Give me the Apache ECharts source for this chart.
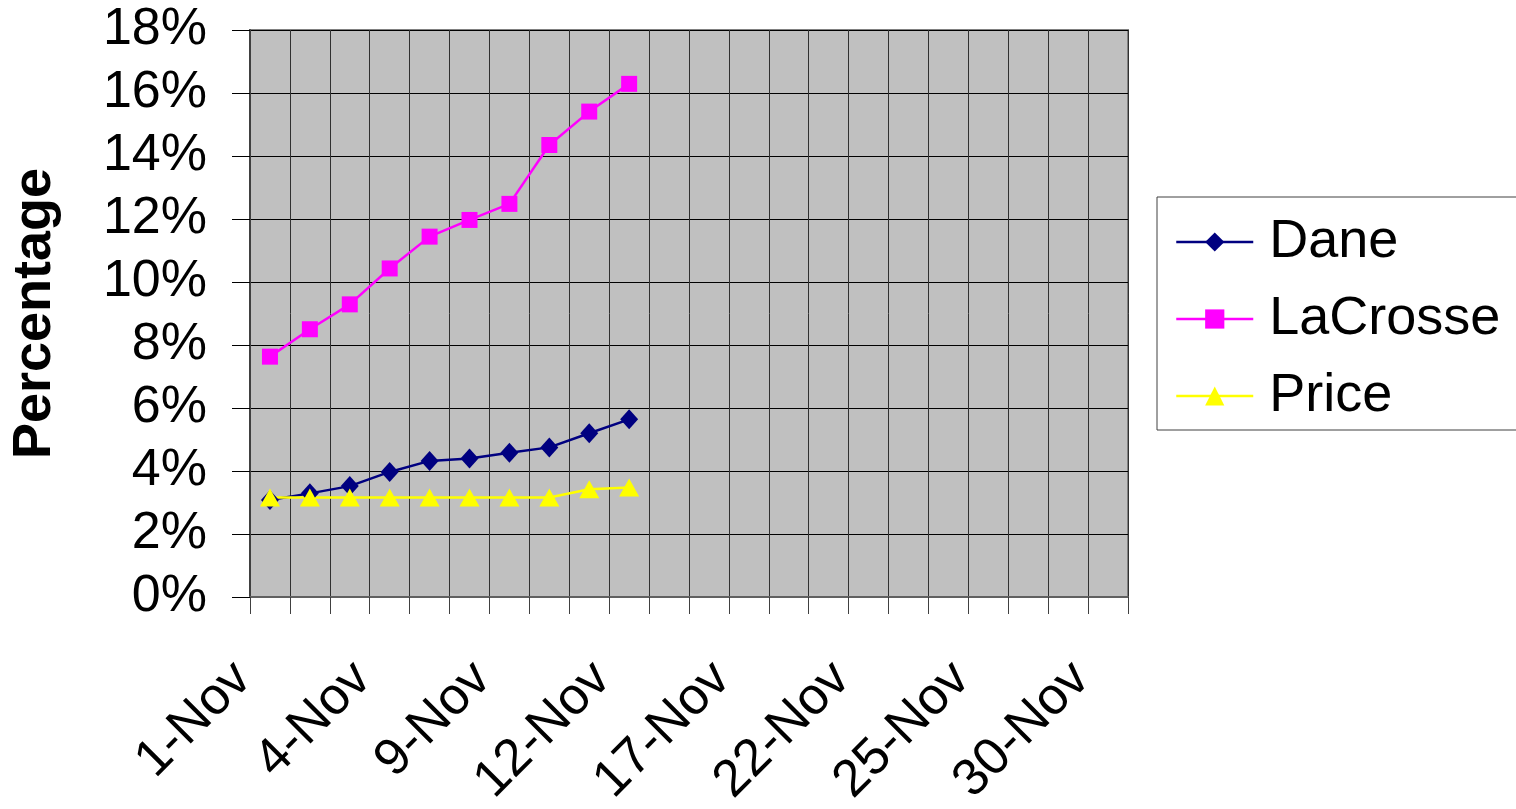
<!DOCTYPE html>
<html>
<head>
<meta charset="utf-8">
<script src="https://cdn.jsdelivr.net/npm/echarts@6/dist/echarts.min.js"></script>
<style>
  html, body { margin: 0; padding: 0; background: #fff; }
  #chart { width: 1516px; height: 809px; }
</style>
</head>
<body>
<div id="chart"></div>
<script>
// Weekdays of November
const dates = ['1-Nov', '2-Nov', '3-Nov', '4-Nov', '5-Nov', '8-Nov', '9-Nov', '10-Nov',
  '11-Nov', '12-Nov', '15-Nov', '16-Nov', '17-Nov', '18-Nov', '19-Nov', '22-Nov',
  '23-Nov', '24-Nov', '25-Nov', '26-Nov', '29-Nov', '30-Nov'];

// Percent values reported so far
const dane = [3.08, 3.29, 3.52, 3.97, 4.32, 4.40, 4.58, 4.75, 5.20, 5.64];
const laCrosse = [7.63, 8.50, 9.29, 10.43, 11.44, 11.97, 12.48, 14.35, 15.41, 16.29];
const price = [3.16, 3.16, 3.16, 3.16, 3.16, 3.16, 3.16, 3.16, 3.42, 3.48];

const FONT = "'Liberation Sans', Arial, sans-serif";

const chart = echarts.init(document.getElementById('chart'), null, { renderer: 'canvas' });

function lineSeries(name, data, color, symbol, size) {
  return {
    name: name,
    type: 'line',
    data: data,
    symbol: symbol,
    symbolSize: size,
    showAllSymbol: true,
    animation: false,
    lineStyle: { color: color, width: 2.5 },
    itemStyle: { color: color },
    emphasis: { disabled: true }
  };
}

chart.setOption({
  backgroundColor: '#ffffff',
  animation: false,
  grid: {
    left: 250, top: 30, right: 388, bottom: 212,
    outerBoundsMode: 'none',
    containLabel: false,
    show: true,
    backgroundColor: '#C0C0C0',
    borderColor: '#808080',
    borderWidth: 2
  },
  legend: {
    left: 1157, top: 197,
    orient: 'vertical',
    data: ['Dane', 'LaCrosse', 'Price'],
    itemWidth: 77, itemHeight: 24, itemGap: 23,
    padding: [18, 60, 7, 18],
    borderColor: '#404040', borderWidth: 1,
    backgroundColor: '#ffffff',
    selectedMode: false,
    lineStyle: { width: 2.5 },
    textStyle: { fontFamily: FONT, fontSize: 54, color: '#000', lineHeight: 54, padding: [0, 0, 0, 11] }
  },
  xAxis: {
    type: 'category',
    data: dates,
    boundaryGap: true,
    axisLine: { show: true, lineStyle: { color: '#606060', width: 2 } },
    axisTick: { show: true, interval: 0, length: 17, lineStyle: { color: '#404040', width: 1 } },
    splitLine: { show: true, interval: 0, lineStyle: { color: '#303030', width: 1 } },
    axisLabel: {
      interval: 2,
      rotate: 45,
      margin: 47,
      padding: [0, 38, 0, 0],
      fontFamily: FONT, fontSize: 52, color: '#000'
    }
  },
  yAxis: {
    type: 'value',
    min: 0, max: 18, interval: 2,
    name: 'Percentage',
    nameLocation: 'middle',
    nameGap: 188,
    nameRotate: 90,
    nameTextStyle: { fontFamily: FONT, fontSize: 54, fontWeight: 'bold', color: '#000' },
    axisLine: { show: true, lineStyle: { color: '#404040', width: 2 } },
    axisTick: { show: true, length: 18, lineStyle: { color: '#000', width: 1 } },
    splitLine: { show: true, lineStyle: { color: '#000', width: 1 } },
    axisLabel: {
      margin: 43,
      formatter: '{value}%',
      fontFamily: FONT, fontSize: 52, color: '#000'
    }
  },
  series: [
    lineSeries('Dane', dane, '#000080', 'diamond', [18, 20]),
    lineSeries('LaCrosse', laCrosse, '#FF00FF', 'rect', 16),
    lineSeries('Price', price, '#FFFF00', 'triangle', [20, 18])
  ]
});
</script>
</body>
</html>
